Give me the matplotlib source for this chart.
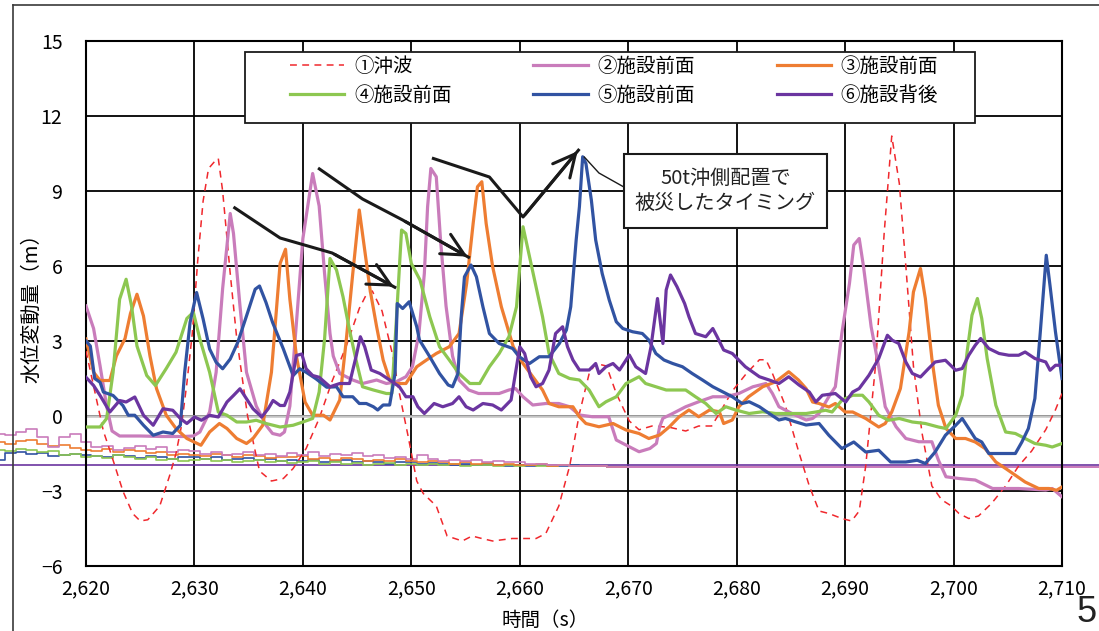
import matplotlib.pyplot as plt
from matplotlib.lines import Line2D
from matplotlib.patches import Rectangle

plt.rcParams['font.family'] = ['Noto Sans CJK JP', 'DejaVu Sans']

# ---------------- data ----------------
x_ticks = [2620, 2630, 2640, 2650, 2660, 2670, 2680, 2690, 2700, 2710]
y_ticks = [-6, -3, 0, 3, 6, 9, 12, 15]
labels = ['①沖波', '②施設前面', '③施設前面', '④施設前面', '⑤施設前面', '⑥施設背後']

# ① offshore wave (dashed)
wave_t = [2620.0, 2620.5, 2621.0, 2621.6, 2622.3, 2623.4, 2624.3, 2625.0, 2625.7, 2626.8,
          2627.7, 2628.3, 2628.8, 2629.3, 2629.8, 2630.3, 2630.8, 2631.3, 2631.9, 2632.2,
          2632.6, 2633.3, 2633.9, 2634.9, 2636.0, 2637.1, 2638.2, 2639.1, 2640.3, 2641.5,
          2642.7, 2644.0, 2645.2, 2645.9, 2646.4, 2647.3, 2648.3, 2648.9, 2649.7, 2650.5,
          2651.1, 2652.3, 2653.3, 2654.7, 2655.6, 2656.5, 2657.5, 2659.3, 2661.5, 2662.4,
          2663.6, 2664.6, 2665.5, 2666.4, 2667.0, 2668.0, 2668.9, 2670.1, 2671.0, 2672.2,
          2673.8, 2675.3, 2676.5, 2677.7, 2678.4, 2679.6, 2680.9, 2682.1, 2682.7, 2683.3,
          2684.5, 2685.7, 2686.7, 2687.6, 2688.5, 2689.7, 2690.6, 2691.3, 2691.9, 2692.8,
          2693.6, 2694.3, 2695.0, 2695.6, 2696.3, 2697.1, 2698.0, 2698.9, 2699.8, 2700.5,
          2701.4, 2702.3, 2703.5, 2704.8, 2706.0, 2707.2, 2708.5, 2709.4, 2710.0]
wave_v = [2.6, 1.6, 0.6, -0.6, -1.5, -3.0, -3.9, -4.2, -4.15, -3.6,
          -2.4, -1.5, -0.4, 1.3, 3.3, 6.2, 8.6, 9.9, 10.2, 10.3,
          9.0, 5.7, 3.1, 0.0, -2.2, -2.6, -2.5, -2.1, -1.3, -0.1,
          1.4, 2.8, 4.3, 4.9, 5.0, 4.2, 2.4, 0.9, -0.8, -2.6,
          -3.1, -3.6, -4.8, -5.0, -4.8, -4.9, -5.0, -4.9, -4.9, -4.7,
          -3.6, -2.0, 0.1, 1.7, 2.1, 2.0, 0.9, -0.2, -0.55, -0.4,
          -0.45, -0.6, -0.4, -0.4, 0.1, 1.0, 1.7, 2.25, 2.25, 1.7,
          0.4, -1.4, -2.8, -3.8, -3.9, -4.1, -4.2, -3.8, -2.0, 2.0,
          7.3, 11.2, 9.3, 6.0, 2.0, -0.7, -2.8, -3.35, -3.6, -3.9,
          -4.1, -4.0, -3.5, -2.8, -2.0, -1.4, -0.55, 0.25, 0.9]

# ② front of facility
p2_t = [2620.0, 2620.7, 2621.3, 2621.9, 2622.4, 2623.1, 2625.0, 2627.0, 2629.0, 2629.9,
        2630.5, 2631.4, 2632.0, 2632.6, 2633.3, 2633.6, 2634.2, 2634.8, 2635.7, 2636.6,
        2637.2, 2637.9, 2638.3, 2638.8, 2639.4, 2640.0, 2640.9, 2641.5, 2642.0, 2642.5,
        2642.8, 2643.4, 2644.6, 2645.5, 2646.8, 2647.7, 2648.6, 2649.5, 2650.1, 2650.7,
        2651.2, 2651.5, 2651.8, 2652.3, 2652.7, 2653.2, 2653.8, 2654.4, 2655.3, 2656.2,
        2657.2, 2658.1, 2659.0, 2659.6, 2660.3, 2661.2, 2662.4, 2663.6, 2664.6, 2665.5,
        2666.7, 2668.2, 2668.9, 2670.1, 2671.0, 2672.0, 2672.6, 2672.9, 2673.2, 2674.1,
        2675.3, 2676.5, 2677.8, 2679.0, 2680.2, 2681.5, 2682.7, 2683.3, 2683.9, 2685.1,
        2686.4, 2687.0, 2687.6, 2688.5, 2689.1, 2689.7, 2690.4, 2690.8, 2691.3, 2691.7,
        2692.4, 2693.1, 2693.7, 2694.7, 2695.6, 2696.8, 2698.0, 2698.6, 2699.3, 2700.5,
        2702.0, 2703.6, 2706.0, 2708.5, 2709.1, 2710.0]
p2_v = [4.4, 3.5, 2.0, 0.4, -0.6, -0.8, -0.8, -0.82, -0.82, -0.8,
        -0.64, 0.16, 1.75, 5.1, 8.1, 7.3, 4.4, 1.75, 0.4, -0.37,
        -0.7, -0.77, -0.64, 0.4, 3.7, 7.1, 9.7, 8.4, 5.7, 3.3,
        2.4, 1.7, 1.44, 1.3, 1.44, 1.3, 1.37, 1.57, 1.97, 3.3,
        5.7, 8.37, 9.9, 9.57, 7.0, 4.4, 2.4, 1.44, 1.04, 0.9,
        0.9, 0.9, 1.04, 1.1, 0.77, 0.44, 0.5, 0.5, 0.37, 0.04,
        -0.03, -0.03, -0.96, -1.23, -1.43, -1.3, -1.1, -0.43, -0.09, 0.1,
        0.37, 0.57, 0.77, 0.77, 0.9, 1.17, 1.3, 0.9, 0.37, 0.1,
        -0.16, -0.1, 0.11, 0.77, 1.17, 3.31, 5.3, 6.84, 7.1, 5.97,
        3.57, 1.97, 0.37, -0.43, -0.9, -1.03, -1.03, -1.76, -2.43, -2.5,
        -2.56, -2.9, -2.9, -2.96, -2.9, -3.23]

# ③ front of facility
p3_t = [2620.0, 2620.7, 2621.3, 2622.2, 2622.8, 2623.6, 2624.1, 2624.7, 2625.3, 2625.9,
        2626.5, 2627.4, 2628.3, 2629.3, 2630.6, 2631.4, 2632.3, 2633.0, 2633.9, 2634.8,
        2635.4, 2636.3, 2637.1, 2637.9, 2638.4, 2638.8, 2639.4, 2640.2, 2640.9, 2641.9,
        2642.5, 2643.4, 2644.0, 2644.6, 2645.2, 2645.7, 2646.2, 2646.8, 2647.4, 2648.0,
        2648.6, 2649.5, 2650.5, 2651.4, 2652.3, 2653.5, 2654.4, 2655.1, 2655.7, 2656.1,
        2656.5, 2656.9, 2657.5, 2658.3, 2659.4, 2660.3, 2661.2, 2662.1, 2662.7, 2663.6,
        2664.9, 2665.5, 2666.1, 2667.3, 2668.6, 2669.8, 2671.0, 2671.9, 2672.9, 2673.8,
        2674.7, 2675.6, 2676.5, 2677.5, 2678.4, 2678.8, 2679.6, 2680.2, 2681.1, 2682.4,
        2683.6, 2684.8, 2685.7, 2686.4, 2687.0, 2687.6, 2688.5, 2689.1, 2690.0, 2690.7,
        2691.9, 2693.1, 2693.7, 2694.3, 2695.1, 2695.9, 2696.3, 2696.95, 2697.4, 2698.0,
        2698.6, 2699.3, 2700.2, 2701.1, 2702.0, 2702.9, 2703.9, 2704.8, 2705.7, 2706.6,
        2707.85, 2708.8, 2709.5, 2710.0]
p3_v = [3.08, 1.75, 1.42, 1.42, 2.4, 3.1, 4.1, 4.87, 4.0, 2.4,
        1.1, 0.03, -0.5, -0.9, -1.17, -0.64, -0.3, -0.5, -0.9, -1.1,
        -0.9, -0.37, 1.75, 6.1, 6.67, 4.67, 2.4, 0.56, 0.03, 0.03,
        -0.16, 0.64, 3.04, 5.7, 8.24, 6.64, 5.04, 3.57, 2.24, 1.44,
        1.3, 1.3, 1.97, 2.24, 2.5, 2.77, 3.3, 5.3, 7.7, 9.17,
        9.37, 7.7, 5.97, 4.37, 2.77, 2.1, 1.57, 1.04, 0.5, 0.37,
        0.37, -0.03, -0.3, -0.43, -0.3, -0.56, -0.7, -0.9, -0.76, -0.43,
        -0.03, 0.24, -0.03, 0.24, 0.17, -0.3, -0.16, 0.37, 0.77, 1.17,
        1.37, 1.77, 1.44, 1.1, 0.56, 0.5, 0.36, 0.5, 0.16, 0.16,
        -0.1, -0.44, -0.3, 0.16, 1.1, 3.36, 4.96, 5.9, 4.7, 2.3,
        0.43, -0.5, -0.9, -0.9, -1.04, -1.3, -1.84, -2.1, -2.37, -2.64,
        -2.9, -2.9, -2.97, -2.84]

# ④ front of facility
p4_t = [2620.0, 2621.3, 2621.9, 2622.5, 2623.1, 2623.7, 2624.2, 2624.7, 2625.6, 2626.4,
        2627.4, 2628.3, 2629.3, 2629.9, 2630.5, 2631.4, 2632.2, 2633.0, 2633.9, 2634.8,
        2635.7, 2636.6, 2637.9, 2639.1, 2640.0, 2640.9, 2641.5, 2642.0, 2642.5, 2643.1,
        2643.7, 2644.3, 2644.9, 2645.5, 2646.5, 2647.7, 2648.2, 2648.6, 2649.1, 2649.5,
        2650.0, 2650.8, 2651.7, 2652.6, 2653.5, 2654.4, 2655.4, 2656.3, 2657.2, 2658.1,
        2659.0, 2659.7, 2660.3, 2660.9, 2661.5, 2662.1, 2662.7, 2663.6, 2664.6, 2665.5,
        2666.4, 2667.3, 2667.95, 2668.9, 2669.8, 2671.0, 2671.6, 2672.55, 2673.5, 2675.3,
        2676.2, 2677.15, 2678.1, 2679.0, 2679.9, 2681.15, 2682.4, 2683.6, 2685.1, 2686.4,
        2687.3, 2688.2, 2688.8, 2689.7, 2690.7, 2691.6, 2692.2, 2693.1, 2694.0, 2695.0,
        2696.2, 2697.4, 2698.6, 2699.3, 2700.2, 2700.8, 2701.25, 2701.7, 2702.2, 2702.6,
        2703.1, 2703.9, 2704.8, 2705.7, 2706.6, 2707.5, 2708.5, 2709.1, 2710.0]
p4_v = [-0.44, -0.44, -0.1, 1.75, 4.67, 5.47, 4.4, 2.8, 1.62, 1.22,
        1.9, 2.55, 3.9, 4.15, 3.08, 1.75, 0.16, 0.03, -0.24, -0.24,
        -0.17, -0.3, -0.44, -0.37, -0.24, -0.1, 0.96, 3.08, 6.3, 5.84,
        4.77, 3.44, 2.24, 1.17, 1.04, 0.9, 0.9, 3.7, 7.44, 7.3,
        6.1, 5.44, 3.97, 2.77, 2.24, 1.7, 1.3, 1.3, 1.97, 2.5,
        3.17, 4.37, 7.57, 6.37, 5.17, 3.97, 2.5, 1.7, 1.5, 1.44,
        1.04, 0.37, 0.57, 0.77, 1.3, 1.57, 1.3, 1.17, 1.04, 1.04,
        0.77, 0.5, 0.1, 0.37, 0.24, 0.1, 0.17, 0.1, 0.1, 0.1,
        0.16, 0.23, 0.16, 0.63, 0.83, 0.83, 0.56, 0.03, -0.17, -0.1,
        -0.24, -0.3, -0.44, -0.5, 0.03, 0.83, 2.56, 4.03, 4.7, 3.9,
        2.3, 0.43, -0.64, -0.7, -0.9, -1.1, -1.17, -1.24, -1.1]

# ⑤ front of facility
p5_t = [2620.0, 2620.4, 2620.8, 2621.3, 2621.6, 2622.5, 2623.4, 2623.9, 2624.5, 2625.3,
        2626.2, 2627.1, 2628.0, 2628.7, 2629.1, 2629.6, 2630.2, 2630.8, 2631.4, 2632.0,
        2632.6, 2633.3, 2634.0, 2634.8, 2635.6, 2636.0, 2636.6, 2637.2, 2638.2, 2639.1,
        2639.7, 2640.3, 2641.2, 2642.2, 2643.1, 2643.7, 2644.6, 2645.2, 2645.85, 2646.5,
        2646.9, 2647.4, 2648.0, 2648.5, 2648.7, 2649.2, 2649.8, 2650.5, 2650.75, 2651.7,
        2652.6, 2653.4, 2653.8, 2654.3, 2654.6, 2654.9, 2655.5, 2656.0, 2656.6, 2657.2,
        2658.1, 2659.35, 2659.95, 2660.9, 2661.8, 2662.7, 2663.65, 2664.3, 2664.7, 2665.2,
        2665.5, 2665.8, 2666.1, 2666.6, 2667.0, 2667.6, 2668.25, 2668.9, 2669.5, 2670.4,
        2671.3, 2671.9, 2672.55, 2673.3, 2674.1, 2675.0, 2675.9, 2676.85, 2677.8, 2678.7,
        2679.6, 2680.5, 2681.15, 2682.1, 2683.0, 2683.9, 2684.5, 2685.4, 2686.4, 2687.6,
        2688.5, 2689.7, 2690.8, 2691.9, 2693.1, 2694.2, 2695.6, 2696.65, 2697.4, 2698.3,
        2699.25, 2700.2, 2700.8, 2701.4, 2702.0, 2702.6, 2703.25, 2705.7, 2706.3, 2706.9,
        2707.5, 2708.0, 2708.55, 2708.9, 2709.4, 2710.0]
p5_v = [3.0, 2.8, 1.5, 1.35, 0.96, 0.82, 0.42, 0.03, 0.03, -0.37,
        -0.77, -0.64, -0.7, -0.37, 1.75, 3.75, 4.94, 3.88, 2.68, 2.15,
        1.89, 2.28, 2.95, 4.0, 5.07, 5.2, 4.54, 3.75, 2.68, 1.62,
        1.89, 1.75, 1.49, 1.15, 1.17, 0.77, 0.77, 0.5, 0.5, 0.37,
        0.24, 0.44, 0.44, 1.7, 4.5, 4.3, 4.57, 3.57, 3.04, 2.37,
        1.7, 1.24, 1.17, 1.7, 3.97, 5.57, 6.04, 5.57, 4.37, 3.3,
        2.9, 2.7, 2.37, 2.1, 2.37, 2.37, 2.9, 3.44, 4.37, 7.04,
        8.37, 10.37, 10.1, 8.64, 7.04, 5.7, 4.64, 3.77, 3.5, 3.37,
        3.3, 3.04, 2.5, 2.24, 2.1, 1.97, 1.7, 1.44, 1.17, 0.97,
        0.77, 0.5, 0.57, 0.37, 0.1, -0.16, -0.1, -0.23, -0.36, -0.3,
        -0.77, -1.3, -1.04, -1.44, -1.37, -1.84, -1.84, -1.77, -1.9, -1.44,
        -0.77, -0.37, -0.1, -0.5, -0.9, -1.04, -1.5, -1.5, -1.04, -0.5,
        0.7, 3.36, 6.43, 5.2, 3.36, 1.5]

# ⑥ behind facility
p6_t = [2620.0, 2620.7, 2621.3, 2622.2, 2623.1, 2623.7, 2624.5, 2625.3, 2626.2, 2627.1,
        2628.0, 2628.7, 2629.3, 2630.0, 2630.65, 2631.4, 2632.2, 2633.0, 2633.6, 2634.2,
        2634.8, 2635.4, 2636.2, 2636.8, 2637.25, 2637.9, 2638.3, 2638.8, 2639.4, 2639.9,
        2640.3, 2640.9, 2641.5, 2642.5, 2643.4, 2644.3, 2644.9, 2645.3, 2645.7, 2646.3,
        2647.1, 2648.0, 2648.9, 2649.5, 2650.15, 2650.6, 2651.2, 2652.1, 2652.9, 2653.8,
        2654.4, 2655.05, 2655.7, 2656.6, 2657.5, 2658.3, 2659.2, 2660.0, 2660.45, 2661.0,
        2661.5, 2662.1, 2662.7, 2663.3, 2663.95, 2664.4, 2664.9, 2665.5, 2666.4, 2667.0,
        2667.3, 2667.95, 2668.6, 2669.2, 2670.1, 2670.7, 2671.6, 2672.1, 2672.7, 2673.2,
        2673.5, 2673.9, 2674.5, 2675.2, 2675.6, 2676.2, 2677.15, 2677.8, 2678.2, 2678.8,
        2679.6, 2680.8, 2682.1, 2683.0, 2683.9, 2684.8, 2685.75, 2686.7, 2687.3, 2687.9,
        2689.1, 2690.05, 2690.7, 2691.3, 2692.2, 2693.1, 2693.9, 2694.35, 2694.95, 2695.6,
        2696.2, 2696.95, 2697.7, 2698.3, 2699.25, 2700.2, 2700.8, 2701.4, 2702.0, 2702.5,
        2703.25, 2704.2, 2705.1, 2706.0, 2706.6, 2707.5, 2708.5, 2708.9, 2709.4, 2710.0]
p6_v = [1.55, 1.22, 0.82, 0.16, 0.62, 0.56, 0.76, 0.03, -0.37, 0.29,
        0.23, -0.1, -0.3, -0.04, -0.17, 0.03, -0.04, 0.56, 0.82, 1.09,
        0.69, 0.29, -0.04, 0.29, 0.62, 0.42, 0.42, 0.96, 2.42, 2.48,
        1.89, 1.62, 1.55, 1.17, 1.3, 1.3, 2.37, 3.17, 2.77, 1.84,
        1.7, 1.44, 1.17, 0.77, 0.77, 0.37, 0.1, 0.5, 0.37, 0.5,
        0.77, 0.37, 0.24, 0.5, 0.44, 0.24, 0.64, 2.77, 2.5, 1.57,
        1.17, 1.3, 1.84, 3.3, 3.57, 2.77, 2.24, 1.84, 1.84, 2.1,
        1.7, 1.97, 2.1, 1.84, 2.44, 1.97, 1.7, 2.77, 4.7, 2.9,
        5.04, 5.64, 5.17, 4.5, 3.97, 3.3, 3.17, 3.5, 3.17, 2.64,
        2.5, 1.97, 1.57, 1.44, 1.3, 1.57, 1.24, 0.96, 0.56, 0.83,
        0.9, 0.56, 0.96, 1.1, 1.63, 2.3, 3.23, 3.03, 2.9, 2.16,
        1.7, 1.56, 1.9, 2.16, 2.23, 1.83, 1.9, 2.43, 2.83, 3.1,
        2.7, 2.5, 2.43, 2.43, 2.56, 2.3, 2.16, 1.83, 2.03, 2.03]

# noisy traces that run across the whole sheet (1 s samples, then flat)
noise_t = list(range(2612, 2667)) + [2670, 2714]
noise2_v = [-0.70, -0.75, -0.65, -0.50, -0.85, -1.25, -0.85, -0.72, -1.05, -1.25,
            -1.20, -1.35, -1.28, -1.18, -1.30, -1.25, -1.42, -1.35, -1.40, -1.52,
            -1.45, -1.56, -1.50, -1.42, -1.55, -1.50, -1.58, -1.46, -1.55, -1.42,
            -1.58, -1.50, -1.55, -1.46, -1.60, -1.55, -1.68, -1.64, -1.72, -1.56,
            -1.70, -1.78, -1.74, -1.80, -1.76, -1.84, -1.80, -1.85, -1.85, -1.90,
            -1.90, -1.94, -1.95, -2.00, -2.00, -2.02, -2.02]
noise3_v = [-1.05, -1.10, -1.00, -0.96, -1.10, -1.18, -1.15, -1.28, -1.35, -1.40,
            -1.32, -1.44, -1.36, -1.40, -1.48, -1.45, -1.54, -1.50, -1.55, -1.60,
            -1.52, -1.56, -1.64, -1.56, -1.60, -1.68, -1.62, -1.65, -1.60, -1.70,
            -1.66, -1.74, -1.66, -1.70, -1.78, -1.75, -1.80, -1.72, -1.80, -1.84,
            -1.80, -1.85, -1.90, -1.85, -1.90, -1.86, -1.94, -1.90, -1.95, -1.95,
            -1.92, -2.00, -1.95, -2.00, -2.00, -2.02, -2.02]
noise4_v = [-1.35, -1.40, -1.32, -1.36, -1.45, -1.40, -1.54, -1.50, -1.64, -1.60,
            -1.68, -1.56, -1.65, -1.70, -1.62, -1.74, -1.70, -1.78, -1.75, -1.70,
            -1.80, -1.75, -1.84, -1.80, -1.76, -1.85, -1.80, -1.88, -1.85, -1.80,
            -1.90, -1.85, -1.90, -1.86, -1.94, -1.90, -1.86, -1.94, -1.90, -1.95,
            -1.90, -1.95, -1.92, -2.00, -1.95, -1.96, -2.00, -1.95, -2.00, -1.96,
            -2.00, -2.00, -1.96, -2.00, -2.00, -2.02, -2.02]
noise5_v = [-1.75, -1.48, -1.42, -1.50, -1.46, -1.60, -1.55, -1.50, -1.55, -1.60,
            -1.64, -1.56, -1.60, -1.68, -1.60, -1.65, -1.70, -1.62, -1.65, -1.70,
            -1.62, -1.74, -1.70, -1.66, -1.75, -1.70, -1.78, -1.75, -1.80, -1.75,
            -1.84, -1.80, -1.76, -1.85, -1.80, -1.85, -1.90, -1.82, -1.85, -1.90,
            -1.86, -1.90, -1.94, -1.90, -1.95, -1.90, -1.95, -2.00, -1.95, -2.00,
            -1.96, -2.00, -2.00, -1.96, -2.00, -2.02, -2.02]
noise6_t = [2612, 2714]
noise6_v = [-1.97, -1.97]

# annotation arrows (time, value)
arrow1 = ([2633.6, 2637.9, 2642.7, 2648.6], [8.36, 7.12, 6.52, 5.12])
arrow2 = ([2641.4, 2645.5, 2649.2, 2655.4], [9.92, 8.68, 7.84, 6.32])
arrow3 = ([2651.9, 2657.2, 2660.3, 2665.5], [10.32, 9.56, 7.96, 10.68])
leader = ([2665.95, 2667.3, 2669.6], [10.36, 9.72, 9.16])

colors = ['#F0282D', '#C97CBB', '#EE7D32', '#8DC751', '#3153A2', '#6B35A0']

# ---------------- figure ----------------
fig = plt.figure(figsize=(10.99, 6.31), dpi=100)
ax = fig.add_axes([0.07825, 0.10301, 0.88808, 0.83201])

# outer chart-area frame (partly cut off in the original)
fig.add_artist(Line2D([13 / 1099, 13 / 1099], [0, 1 - 5 / 631], transform=fig.transFigure,
                      color='#3A3A3A', lw=1.2))
fig.add_artist(Line2D([13 / 1099, 1], [1 - 5 / 631, 1 - 5 / 631], transform=fig.transFigure,
                      color='#3A3A3A', lw=1.2))

# background noisy traces, drawn beyond the plot box
for v, c in zip([noise5_v, noise4_v, noise3_v, noise2_v], [colors[4], colors[3], colors[2], colors[1]]):
    ax.plot(noise_t, v, color=c, lw=1.2, drawstyle='steps-mid', clip_on=False, zorder=2.2)
ax.plot(noise6_t, noise6_v, color=colors[5], lw=1.2, clip_on=False, zorder=2.1)
ax.plot([noise_t[-2], noise_t[-1]], [noise2_v[-2], noise2_v[-1]], color=colors[1], lw=1.4,
        clip_on=False, zorder=2.3)

handles = []
handles += ax.plot(wave_t, wave_v, color=colors[0], lw=1.1, dashes=(4.5, 3.5), zorder=3)
for t, v, c in zip([p2_t, p3_t, p4_t, p5_t, p6_t], [p2_v, p3_v, p4_v, p5_v, p6_v], colors[1:]):
    handles += ax.plot(t, v, color=c, lw=2.3, zorder=3, solid_joinstyle='round')

ax.set_xlim(2620, 2710)
ax.set_ylim(-6, 15)
ax.set_xticks(x_ticks)
ax.set_xticklabels([f'{x:,}' for x in x_ticks])
ax.set_yticks(y_ticks)
ax.set_yticklabels([str(y).replace('-', '\u2212') for y in y_ticks])
ax.tick_params(length=0, labelsize=14)
ax.tick_params(axis='y', pad=17)
ax.tick_params(axis='x', pad=9)
ax.grid(True, color='black', lw=1.3, zorder=1)
ax.axhline(0, color='#C4C4C4', lw=1.8, zorder=1.6)
for s in ax.spines.values():
    s.set_color('black')
    s.set_linewidth(1.5)

ax.set_xlabel('時間（s）', fontsize=14, va='center')
ax.xaxis.set_label_coords(0.47, -0.104)
ax.set_ylabel('水位変動量（m）', fontsize=14.5, va='center')
ax.yaxis.set_label_coords(-0.056, 0.5)

# arrows
for pts in [arrow1, arrow2, arrow3]:
    ax.plot(pts[0], pts[1], color='#1A1A1A', lw=2.2, zorder=4, solid_capstyle='butt')
    ax.annotate('', xy=(pts[0][-1], pts[1][-1]), xytext=(pts[0][-2], pts[1][-2]),
                arrowprops=dict(arrowstyle='->,head_length=0.8,head_width=0.4',
                                color='#1A1A1A', lw=2.2, mutation_scale=20), zorder=4)
ax.plot(leader[0], leader[1], color='#1A1A1A', lw=1.0, zorder=4)

# callout box
ax.add_patch(Rectangle((2669.6, 7.52), 18.7, 2.96, facecolor='white', edgecolor='#1A1A1A',
                       lw=1.5, zorder=5))
ax.text(2678.95, 9.0, '50t沖側配置で\n被災したタイミング', ha='center', va='center',
        fontsize=14.5, linespacing=1.3, zorder=6, color='#222222')

# legend with its own frame
fig.add_artist(Rectangle((245 / 1099, 1 - 123 / 631), 730 / 1099, 71 / 631,
                         transform=fig.transFigure, facecolor='white', edgecolor='#1A1A1A',
                         lw=1.3, zorder=3))
order = [0, 3, 1, 4, 2, 5]
leg = fig.legend([handles[i] for i in order], [labels[i] for i in order],
                 loc='upper left', bbox_to_anchor=(290 / 1099, 1 - 56 / 631), ncol=3,
                 frameon=False, fontsize=14, handlelength=2.8, handletextpad=0.5,
                 columnspacing=4.2, labelspacing=0.4, borderpad=0, borderaxespad=0)
leg.set_zorder(4)

fig.text(1087 / 1099, 1 - 612 / 631, '5', fontsize=26, ha='center', va='center',
         family='Liberation Sans', color='#222222')

fig.savefig('out.png', dpi=100)
